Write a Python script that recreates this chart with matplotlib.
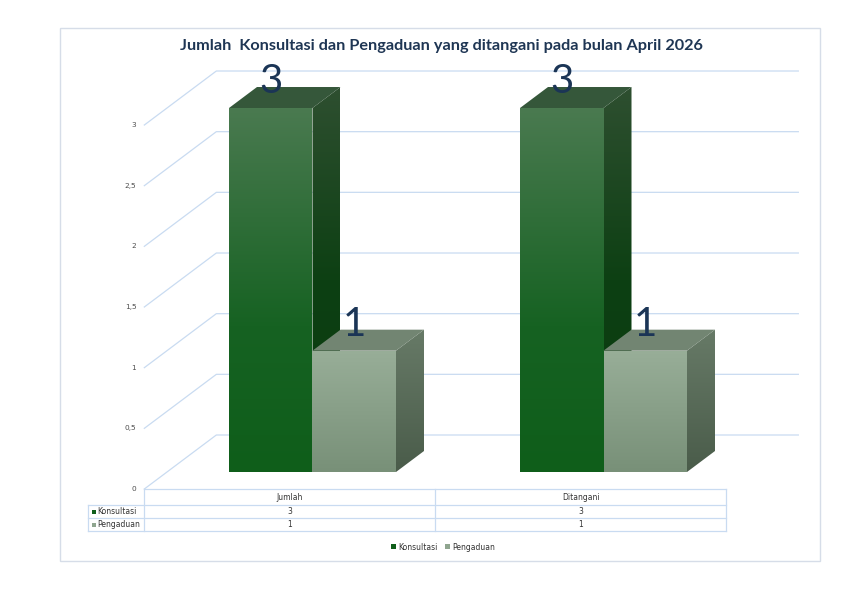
import numpy as np
import matplotlib.pyplot as plt
from matplotlib.patches import Polygon, Rectangle, Patch
from matplotlib.colors import LinearSegmentedColormap

# ---- data ----
categories = ["Jumlah", "Ditangani"]
series_names = ["Konsultasi", "Pengaduan"]
konsultasi = [3, 3]
pengaduan = [1, 1]
y_ticks = [0, 0.5, 1, 1.5, 2, 2.5, 3]
y_tick_labels = ["0", "0,5", "1", "1,5", "2", "2,5", "3"]
title = "Jumlah  Konsultasi dan Pengaduan yang ditangani pada bulan April 2026"

plt.rcParams['font.family'] = ['Lato', 'DejaVu Sans']
SMALL = dict(fontsize=5.5, color='#333333', family='DejaVu Sans')

# ---- layout (pixel based) ----
SX, SY = 291.0, 121.33      # px per category / px per unit
X0, Y0 = 312.5, 472.0       # pixel of category 0, value 0 (bar front plane)
DEP_X, DEP_Y = 72 / SX, 54 / SY
BAR_D0, BAR_D1 = 17 / 54, 38 / 54
BAR_W = 83.5 / SX

fig = plt.figure(figsize=(8.42, 5.95), dpi=100)
ax = fig.add_axes([0, 0, 1, 1])
XLIM = (-X0 / SX, (842 - X0) / SX)
YLIM = ((Y0 - 595) / SY, Y0 / SY)
ax.set_xlim(*XLIM)
ax.set_ylim(*YLIM)
ax.axis('off')


def px(x, y):
    return (x - X0) / SX, (Y0 - y) / SY


def proj(x, v, d):
    return x + (d - BAR_D0) * DEP_X, v + (d - BAR_D0) * DEP_Y


def shade(pts, colors, z):
    poly = Polygon(pts, closed=True, facecolor='none', edgecolor='none')
    ax.add_patch(poly)
    xs = [p[0] for p in pts]
    ys = [p[1] for p in pts]
    cmap = LinearSegmentedColormap.from_list('g', colors)
    grad = np.linspace(1, 0, 256).reshape(-1, 1)
    im = ax.imshow(grad, cmap=cmap, vmin=0, vmax=1, aspect='auto',
                   extent=(min(xs), max(xs), min(ys), max(ys)),
                   interpolation='bilinear', zorder=z)
    im.set_clip_path(poly)


grid_c = '#c9dbf1'
# walls: left diagonals + back wall lines
for t, lab in zip(y_ticks, y_tick_labels):
    a = proj(-0.5, t, 0)
    b = proj(-0.5, t, 1)
    c = proj(1.5, t, 1)
    ax.plot([a[0], b[0], c[0]], [a[1], b[1], c[1]], color=grid_c, lw=0.9, zorder=1)
    ax.text(a[0] - 8 / SX, a[1], lab, ha='right', va='center',
            fontsize=5.3, color='#4d4d4d', family='DejaVu Sans')

styles = [
    dict(front=[(0, '#0f5e1a'), (0.4, '#166222'), (1, '#4a7a50')],
         side=[(0, '#0a3a0f'), (0.5, '#0d4013'), (1, '#2e4f30')],
         top='#35573a'),
    dict(front=[(0, '#789078'), (1, '#98ae98')],
         side=[(0, '#4a5c4a'), (1, '#677a67')],
         top='#728572'),
]
legend_cols = ['#0f5e1a', '#8fa58f']

z = 3
for i, cat in enumerate(categories):
    for s, vals in enumerate([konsultasi, pengaduan]):
        v = vals[i]
        xl = i - BAR_W + s * BAR_W
        xr = xl + BAR_W
        st = styles[s]
        side = [proj(xr, 0, BAR_D0), proj(xr, v, BAR_D0), proj(xr, v, BAR_D1), proj(xr, 0, BAR_D1)]
        shade(side, st['side'], z)
        top = [proj(xl, v, BAR_D0), proj(xr, v, BAR_D0), proj(xr, v, BAR_D1), proj(xl, v, BAR_D1)]
        ax.add_patch(Polygon(top, closed=True, facecolor=st['top'], edgecolor='none', zorder=z + 0.1))
        front = [proj(xl, 0, BAR_D0), proj(xr, 0, BAR_D0), proj(xr, v, BAR_D0), proj(xl, v, BAR_D0)]
        shade(front, st['front'], z + 0.2)
        ax.text((xl + xr) / 2, v + 0.125, str(v), ha='center', va='baseline',
                fontsize=29, color='#1b3556', zorder=20)
        z += 1

ax.set_xlim(*XLIM)
ax.set_ylim(*YLIM)

# ---- data table ----
tab_c = '#c9dbf1'
y_top, y_r1, y_r2, y_bot = [px(0, p)[1] for p in (489, 505, 518, 531)]
x_lab = px(88, 0)[0]
x_l, x_m, x_r = -0.5 - BAR_D0 * DEP_X, 0.5 - BAR_D0 * DEP_X, 1.5 - BAR_D0 * DEP_X
ax.plot([x_l, x_r], [y_top, y_top], color=tab_c, lw=0.9)
for yy in (y_r1, y_r2, y_bot):
    ax.plot([x_lab, x_r], [yy, yy], color=tab_c, lw=0.9)
for xx in (x_l, x_m, x_r):
    ax.plot([xx, xx], [y_top, y_bot], color=tab_c, lw=0.9)
ax.plot([x_lab, x_lab], [y_r1, y_bot], color=tab_c, lw=0.9)

col_centers = [(x_l + x_m) / 2, (x_m + x_r) / 2]
row_y = [(y_r1 + y_r2) / 2, (y_r2 + y_bot) / 2]
for i, cat in enumerate(categories):
    ax.text(col_centers[i], (y_top + y_r1) / 2 - 1 / SY, cat, ha='center', va='center', **SMALL)
    for s, vals in enumerate([konsultasi, pengaduan]):
        ax.text(col_centers[i], row_y[s], str(vals[i]), ha='center', va='center', **SMALL)
for s, name in enumerate(series_names):
    ax.scatter([px(94.5, 0)[0]], [row_y[s]], marker='s', s=12, color=legend_cols[s], linewidths=0)
    ax.text(px(97.5, 0)[0], row_y[s], name, ha='left', va='center', **SMALL)

# ---- title, legend, border ----
fig.text(441 / 842, 1 - 46 / 595, title, ha='center', va='center',
         fontsize=11.7, fontweight='bold', color='#1f3654')
handles = [Patch(facecolor=c, edgecolor='none') for c in legend_cols]
fig.legend(handles, series_names, loc='center', bbox_to_anchor=(443 / 842, 1 - 547 / 595),
           ncol=2, frameon=False, handlelength=0.6, handleheight=0.6,
           handletextpad=0.3, columnspacing=1.0, labelcolor='#333333',
           prop=dict(family='DejaVu Sans', size=5.5))
fig.patches.append(Rectangle((60 / 842, 1 - 561 / 595), 760 / 842, 533 / 595,
                             transform=fig.transFigure, fill=False,
                             edgecolor='#d6dde8', lw=1))

fig.savefig('out.png', dpi=100)
